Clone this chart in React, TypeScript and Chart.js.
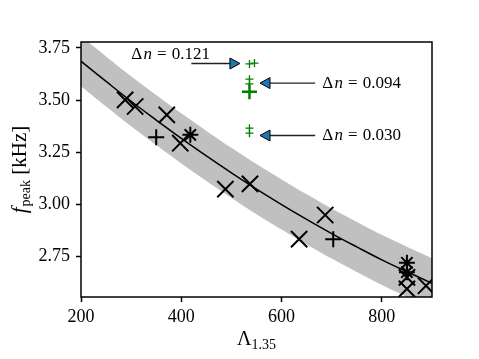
import React, { useEffect, useRef } from "react";
import { Chart, registerables } from "chart.js";

Chart.register(...registerables);

// ---- data ----
const fitX = [200, 250, 300, 350, 400, 450, 500, 550, 600, 650, 700, 750, 800, 850, 900];
const fitY = [3.686, 3.589, 3.494, 3.404, 3.316, 3.232, 3.151, 3.073, 2.999, 2.928, 2.86, 2.796, 2.734, 2.677, 2.622];
const bandUpper = [3.806, 3.709, 3.614, 3.524, 3.436, 3.352, 3.271, 3.193, 3.119, 3.048, 2.98, 2.916, 2.854, 2.797, 2.742];
const bandLower = [3.566, 3.469, 3.374, 3.284, 3.196, 3.112, 3.031, 2.953, 2.879, 2.808, 2.74, 2.676, 2.614, 2.557, 2.502];

const crossX = [288, 308, 371, 398, 488, 537, 687, 635, 850, 850, 888];
const crossY = [3.501, 3.469, 3.429, 3.293, 3.073, 3.098, 2.949, 2.833, 2.65, 2.595, 2.61];
const plusX = [350, 703];
const plusY = [3.322, 2.833];
const starX = [418, 850, 850];
const starY = [3.333, 2.72, 2.675];
const greenSmallX = [536, 546, 536, 536, 536, 536];
const greenSmallY = [3.673, 3.677, 3.6, 3.577, 3.365, 3.341];
const greenBigX = [536];
const greenBigY = [3.54];

const xTicks = [200, 400, 600, 800];
const yTicks = [2.75, 3.0, 3.25, 3.5, 3.75];
const xMin = 200;
const xMax = 900;
const yMin = 2.556;
const yMax = 3.778;

const annLabels = ["0.121", "0.094", "0.030"];
const annTextX = [300, 681, 681];
const annTextY = [3.695, 3.557, 3.309];
const arrowFromX = [420, 667, 667];
const arrowFromY = [3.675, 3.581, 3.33];
const arrowToX = [517, 557, 557];
const arrowToY = [3.675, 3.581, 3.33];

const FONT = "'Liberation Serif', 'DejaVu Serif', serif";

const pts = (xs: number[], ys: number[]) => xs.map((v, i) => ({ x: v, y: ys[i] }));

const overlay = {
  id: "overlay",
  afterDatasetsDraw(chart: any) {
    const { ctx, chartArea: a, scales } = chart;
    const xs = scales.x;
    const ys = scales.y;
    ctx.save();
    // frame
    ctx.strokeStyle = "#000";
    ctx.lineWidth = 1.5;
    ctx.strokeRect(a.left, a.top, a.right - a.left, a.bottom - a.top);

    // annotations
    for (let i = 0; i < annLabels.length; i++) {
      const tx = xs.getPixelForValue(annTextX[i]);
      const ty = ys.getPixelForValue(annTextY[i]);
      ctx.fillStyle = "#000";
      ctx.textBaseline = "alphabetic";
      ctx.textAlign = "left";
      let cx = tx;
      ctx.font = `17px ${FONT}`;
      ctx.fillText("\u0394", cx, ty);
      cx += ctx.measureText("\u0394").width + 1.5;
      ctx.font = `italic 17px ${FONT}`;
      ctx.fillText("n", cx, ty);
      cx += ctx.measureText("n").width + 5;
      ctx.font = `17px ${FONT}`;
      ctx.fillText("=", cx, ty);
      cx += ctx.measureText("=").width + 5;
      ctx.fillText(annLabels[i], cx, ty);

      // arrow
      const x0 = xs.getPixelForValue(arrowFromX[i]);
      const y0 = ys.getPixelForValue(arrowFromY[i]);
      const x1 = xs.getPixelForValue(arrowToX[i]);
      const y1 = ys.getPixelForValue(arrowToY[i]);
      const ang = Math.atan2(y1 - y0, x1 - x0);
      const hl = 10;
      const hw = 5.5;
      const bx = x1 - Math.cos(ang) * hl;
      const by = y1 - Math.sin(ang) * hl;
      ctx.strokeStyle = "#222";
      ctx.lineWidth = 1.3;
      ctx.beginPath();
      ctx.moveTo(x0, y0);
      ctx.lineTo(bx, by);
      ctx.stroke();
      ctx.beginPath();
      ctx.moveTo(x1, y1);
      ctx.lineTo(bx - Math.sin(ang) * hw, by + Math.cos(ang) * hw);
      ctx.lineTo(bx + Math.sin(ang) * hw, by - Math.cos(ang) * hw);
      ctx.closePath();
      ctx.fillStyle = "#1f77b4";
      ctx.fill();
      ctx.strokeStyle = "#000";
      ctx.lineWidth = 1;
      ctx.stroke();
    }
    ctx.restore();
  },
  afterDraw(chart: any) {
    const { ctx, chartArea: a } = chart;
    ctx.save();
    ctx.fillStyle = "#000";
    ctx.textBaseline = "alphabetic";
    ctx.textAlign = "left";
    // x title: Λ_{1.35}
    ctx.font = `20px ${FONT}`;
    const wL = ctx.measureText("\u039B").width;
    ctx.font = `14px ${FONT}`;
    const wS = ctx.measureText("1.35").width;
    const xc = (a.left + a.right) / 2;
    const sx = xc - (wL + wS) / 2;
    ctx.font = `20px ${FONT}`;
    ctx.fillText("\u039B", sx, 345);
    ctx.font = `14px ${FONT}`;
    ctx.fillText("1.35", sx + wL, 349);

    // y title: f_peak [kHz]
    ctx.translate(26, (a.top + a.bottom) / 2);
    ctx.rotate(-Math.PI / 2);
    ctx.font = `italic 21px ${FONT}`;
    const wf = ctx.measureText("f").width + 1;
    ctx.font = `14px ${FONT}`;
    const wp = ctx.measureText("peak").width;
    ctx.font = `21px ${FONT}`;
    const wk = ctx.measureText(" [kHz]").width;
    let p = -(wf + wp + wk) / 2;
    ctx.font = `italic 21px ${FONT}`;
    ctx.fillText("f", p, 0);
    p += wf;
    ctx.font = `14px ${FONT}`;
    ctx.fillText("peak", p, 4);
    p += wp;
    ctx.font = `21px ${FONT}`;
    ctx.fillText(" [kHz]", p, 0);
    ctx.restore();
  },
};

export default function App() {
  const ref = useRef<HTMLCanvasElement | null>(null);
  useEffect(() => {
    if (!ref.current) return;
    const chart = new Chart(ref.current, {
      type: "scatter",
      data: {
        datasets: [
          {
            label: "band upper",
            type: "line",
            data: pts(fitX, bandUpper),
            borderWidth: 0,
            pointRadius: 0,
            backgroundColor: "#c0c0c0",
            borderColor: "rgba(0,0,0,0)",
            fill: "+1",
            tension: 0.4,
            order: 10,
          } as any,
          {
            label: "band lower",
            type: "line",
            data: pts(fitX, bandLower),
            borderWidth: 0,
            pointRadius: 0,
            borderColor: "rgba(0,0,0,0)",
            fill: false,
            tension: 0.4,
            order: 10,
          } as any,
          {
            label: "fit",
            type: "line",
            data: pts(fitX, fitY),
            borderColor: "#000",
            borderWidth: 1.5,
            pointRadius: 0,
            fill: false,
            tension: 0.4,
            order: 5,
          } as any,
          {
            label: "x",
            data: pts(crossX, crossY),
            pointStyle: "crossRot",
            pointRadius: 11.5,
            borderColor: "#000",
            borderWidth: 2,
            clip: 0,
            order: 1,
          } as any,
          {
            label: "+",
            data: pts(plusX, plusY),
            pointStyle: "cross",
            pointRadius: 8,
            borderColor: "#000",
            borderWidth: 2,
            clip: 0,
            order: 1,
          } as any,
          {
            label: "*",
            data: pts(starX, starY),
            pointStyle: "star",
            pointRadius: 8,
            borderColor: "#000",
            borderWidth: 2,
            clip: 0,
            order: 1,
          } as any,
          {
            label: "green small",
            data: pts(greenSmallX, greenSmallY),
            pointStyle: "cross",
            pointRadius: 4,
            borderColor: "#008000",
            borderWidth: 1.3,
            clip: 0,
            order: 1,
          } as any,
          {
            label: "green big",
            data: pts(greenBigX, greenBigY),
            pointStyle: "cross",
            pointRadius: 7.5,
            borderColor: "#008000",
            borderWidth: 2.5,
            clip: 0,
            order: 1,
          } as any,
        ],
      },
      options: {
        responsive: false,
        animation: false,
        devicePixelRatio: 1,
        layout: { padding: { top: 42, right: 47, left: 0, bottom: 0 } },
        plugins: {
          legend: { display: false },
          tooltip: { enabled: false },
          title: { display: false },
        },
        scales: {
          x: {
            type: "linear",
            min: xMin,
            max: xMax,
            afterFit: (s: any) => {
              s.height = 62;
            },
            afterBuildTicks: (s: any) => {
              s.ticks = xTicks.map((v) => ({ value: v }));
            },
            grid: {
              drawOnChartArea: false,
              drawTicks: true,
              tickLength: 5,
              tickWidth: 1.5,
              tickColor: "#000",
              color: "#000",
            },
            border: { display: false },
            ticks: {
              color: "#000",
              font: { family: FONT, size: 18 },
              padding: 4,
              maxRotation: 0,
              callback: (v: any) => String(v),
            },
          },
          y: {
            type: "linear",
            min: yMin,
            max: yMax,
            afterFit: (s: any) => {
              s.width = 81;
            },
            afterBuildTicks: (s: any) => {
              s.ticks = yTicks.map((v) => ({ value: v }));
            },
            grid: {
              drawOnChartArea: false,
              drawTicks: true,
              tickLength: 5,
              tickWidth: 1.5,
              tickColor: "#000",
              color: "#000",
            },
            border: { display: false },
            ticks: {
              color: "#000",
              font: { family: FONT, size: 18 },
              padding: 6,
              callback: (v: any) => Number(v).toFixed(2),
            },
          },
        },
      },
      plugins: [overlay],
    });
    return () => chart.destroy();
  }, []);
  return (
    <div style={{ position: "fixed", left: 0, top: 0, width: 479, height: 359, background: "#fff" }}>
      <canvas ref={ref} width={479} height={359} />
    </div>
  );
}
